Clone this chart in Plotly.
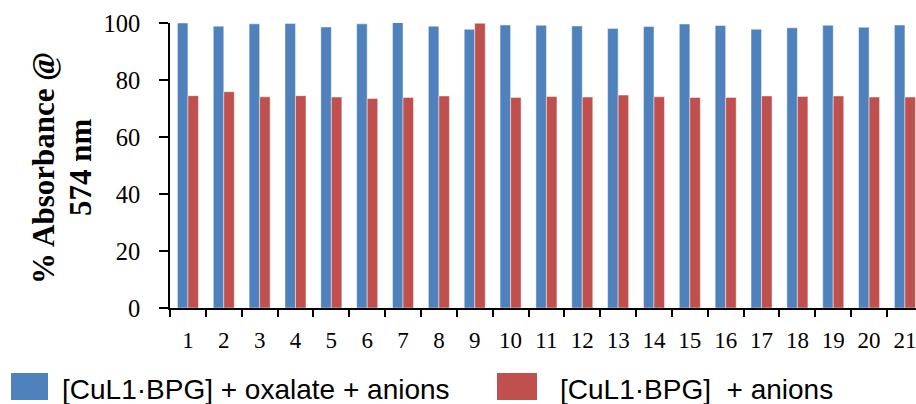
import plotly.graph_objects as go

categories = [str(i) for i in range(1, 22)]
oxalate_anions = [100.0, 98.9, 99.7, 99.8, 98.6, 99.7, 100.2, 98.9, 97.8, 99.3, 99.2,
                  98.95, 98.1, 98.8, 99.65, 99.1, 97.8, 98.3, 99.2, 98.5, 99.3]
anions_only = [74.5, 75.9, 74.1, 74.5, 74.0, 73.5, 73.9, 74.4, 99.9, 73.9, 74.2,
               74.0, 74.7, 74.1, 73.9, 73.9, 74.4, 74.2, 74.4, 74.0, 74.0]
y_ticks = [0, 20, 40, 60, 80, 100]
series_names = ["[CuL1·BPG] + oxalate + anions", "[CuL1·BPG]  + anions"]
series_colors = ["#4F81BD", "#C0504D"]
y_title_lines = ["% Absorbance @", "574 nm"]

W, H = 916, 404
L, R, T, B = 170, 0, 23, 96
pw, ph = W - L - R, H - T - B

def px_x(px):
    return (px - L) / pw

def px_y(py):
    return (H - B - py) / ph

fig = go.Figure()
for vals, name, col in zip([oxalate_anions, anions_only], series_names, series_colors):
    fig.add_trace(go.Bar(
        x=categories, y=vals, name=name, showlegend=False,
        marker=dict(color=col, line=dict(color="rgba(255,255,255,0.45)", width=1)),
        cliponaxis=False,
    ))

serif = "Liberation Serif, Times New Roman, serif"
sans = "Liberation Sans, Arial, sans-serif"

fig.update_layout(
    width=W, height=H,
    margin=dict(l=L, r=R, t=T, b=B, pad=0),
    paper_bgcolor="white", plot_bgcolor="white",
    barmode="group", bargap=0.414, bargroupgap=0,
    xaxis=dict(
        type="category", range=[-0.5, -0.5 + pw / 35.85],
        tickson="boundaries", ticks="outside", ticklen=7, tickwidth=1.5, tickcolor="black",
        showline=True, linecolor="black", linewidth=1.5, showgrid=False, zeroline=False,
        tickfont=dict(family=serif, size=23, color="black"),
        ticklabelstandoff=11,
    ),
    yaxis=dict(
        range=[0, 100], tickvals=y_ticks, ticks="outside", ticklen=9, tickwidth=1.5,
        tickcolor="black", showline=True, linecolor="black", linewidth=1.5,
        showgrid=False, zeroline=False,
        tickfont=dict(family=serif, size=24.5, color="black"),
        ticklabelstandoff=14,
    ),
)

# y-axis title (two lines)
for line, cx in zip(y_title_lines, [43, 80]):
    fig.add_annotation(
        text="<b>%s</b>" % line, textangle=-90, showarrow=False,
        xref="paper", yref="paper", x=px_x(cx), y=px_y(168),
        xanchor="center", yanchor="middle",
        font=dict(family=serif, size=31, color="black"),
    )

# legend
legend_boxes = [(11, 48), (497, 537)]
legend_text_x = [60, 558]
for (x0, x1), tx, name, col in zip(legend_boxes, legend_text_x, series_names, series_colors):
    fig.add_shape(type="rect", xref="paper", yref="paper",
                  x0=px_x(x0), x1=px_x(x1), y0=px_y(373), y1=px_y(400),
                  fillcolor=col, line=dict(width=0))
    fig.add_annotation(
        text=name, showarrow=False, xref="paper", yref="paper",
        x=px_x(tx), y=px_y(389), xanchor="left", yanchor="middle",
        font=dict(family=sans, size=28, color="black"),
    )

fig.write_html("out.html")
